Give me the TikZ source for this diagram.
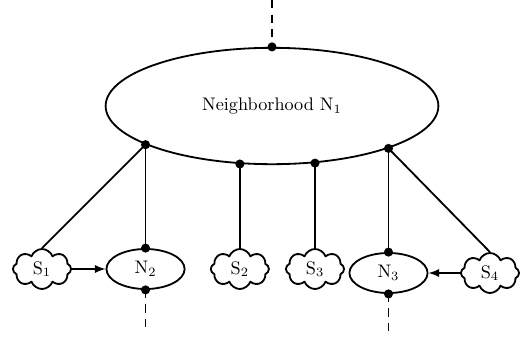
\documentclass[tikz,border=0pt]{standalone}
\usetikzlibrary{shapes.geometric,shapes.symbols}
\begin{document}
\begin{tikzpicture}[x=0.55pt, y=0.55pt, font=\normalsize, line join=round, line width=1pt, >=latex,
	cld/.style={draw, cloud, cloud puffs=8, cloud puff arc=140, aspect=1.5, minimum width=32pt, minimum height=22pt, inner sep=0pt},
	nbr/.style={draw, ellipse, minimum width=43pt, minimum height=22pt, inner sep=0pt},
	dot/.style={circle, fill, inner sep=0pt, minimum size=5pt},
	dsh/.style={dash pattern=on 4.5pt off 3.5pt}]
		\useasboundingbox (0,0) rectangle (529,337);
		\node[draw, ellipse, minimum width=183pt, minimum height=64pt] (nbh) at (272,231) {Neighborhood N$_1$};
		\coordinate (top) at (272,337);
		\coordinate (p1) at (nbh.197);
		\coordinate (p2) at (nbh.241);
		\coordinate (p3) at (nbh.307);
		\coordinate (p4) at (nbh.340);
		\node[cld] (s1) at (42,68) {S$_1$};
		\node[cld] (s4) at (490,64) {S$_4$};
		\node[nbr] (n2) at (p1 |- s1) {N$_2$};
		\node[cld] (s2) at (p2 |- s1) {S$_2$};
		\node[cld] (s3) at (p3 |- s1) {S$_3$};
		\node[nbr] (n3) at (p4 |- s4) {N$_3$};
		\draw[dsh] (top) -- (nbh.north);
		\draw (p1) -- (s1.north);
		\draw (p1) -- (n2.north);
		\draw (p2) -- (s2.north);
		\draw (p3) -- (s3.north);
		\draw (p4) -- (n3.north);
		\draw (p4) -- (s4.north);
		\draw[->] (s1) -- (n2);
		\draw[->] (s4) -- (n3);
		\draw[dsh] (n2.south) -- ++(0,-42) coordinate (e2);
		\draw[dsh] (n3.south) -- ++(0,-44) coordinate (e3);
		\node[dot] (d0) at (nbh.north) {};
		\node[dot] (d1) at (p1) {};
		\node[dot] (d2) at (p2) {};
		\node[dot] (d3) at (p3) {};
		\node[dot] (d4) at (p4) {};
		\node[dot] (d5) at (n2.north) {};
		\node[dot] (d6) at (n2.south) {};
		\node[dot] (d7) at (n3.north) {};
		\node[dot] (d8) at (n3.south) {};
\end{tikzpicture}
\end{document}
